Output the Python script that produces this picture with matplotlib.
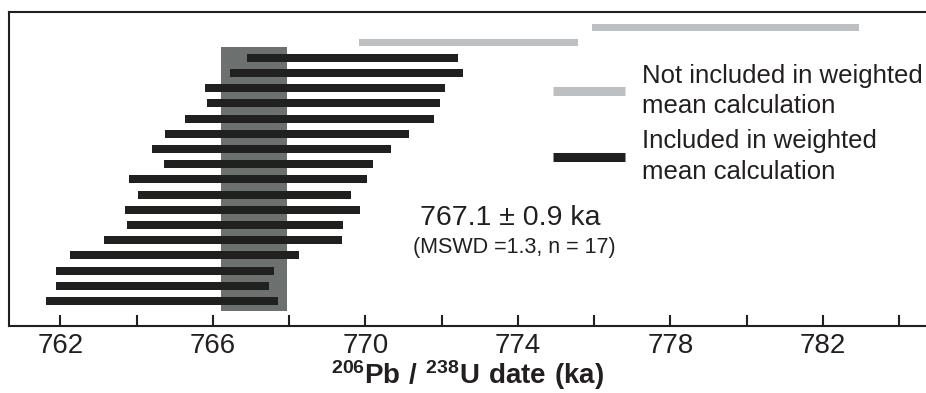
import matplotlib.pyplot as plt
from matplotlib.lines import Line2D
from matplotlib.ticker import MultipleLocator, FuncFormatter

plt.rcParams['font.family'] = ['Liberation Sans', 'DejaVu Sans']
plt.rcParams['mathtext.fontset'] = 'custom'
plt.rcParams['mathtext.rm'] = 'Liberation Sans'
plt.rcParams['mathtext.bf'] = 'Liberation Sans:bold'

# 206Pb/238U dates (ka), listed top to bottom
excl_lo = [775.95, 769.83]
excl_hi = [782.94, 775.58]
incl_lo = [766.90, 766.44, 765.79, 765.85, 765.27, 764.75, 764.40, 764.73, 763.80,
           764.05, 763.69, 763.74, 763.15, 762.26, 761.89, 761.89, 761.62]
incl_hi = [772.42, 772.55, 772.09, 771.96, 771.80, 771.14, 770.66, 770.20, 770.04,
           769.62, 769.87, 769.42, 769.39, 768.26, 767.60, 767.47, 767.70]
wm_lo, wm_hi = 766.22, 767.95

black = '#20211e'
grey = '#bcc0c2'
shade = '#6c716f'
txt = '#231f20'

n = len(excl_lo) + len(incl_lo)
y_excl = [n - i for i in range(len(excl_lo))]
y_incl = [n - len(excl_lo) - i for i in range(len(incl_lo))]

fig = plt.figure(figsize=(9.26, 3.93), dpi=100)
ax = fig.add_axes([0.0097, 0.1712, 0.9903, 0.7975])

ax.fill_between([wm_lo, wm_hi], 0.35, 17.7, color=shade, lw=0, zorder=1)
ax.barh(y_excl, [h - l for l, h in zip(excl_lo, excl_hi)], left=excl_lo,
        height=0.5, color=grey, zorder=2)
ax.barh(y_incl, [h - l for l, h in zip(incl_lo, incl_hi)], left=incl_lo,
        height=0.53, color=black, zorder=2)

ax.text(773.8, 6.0, '767.1 \u00b1 0.9 ka', fontsize=20.5, ha='center', va='baseline', color=txt)
ax.text(773.9, 4.17, '(MSWD =1.3, n = 17)', fontsize=15.5, ha='center', va='baseline', color=txt)

ax.set_xlim(760.655, 784.70)
ax.set_ylim(-0.63, 20.0)
ax.xaxis.set_major_locator(MultipleLocator(2))
ax.xaxis.set_major_formatter(FuncFormatter(lambda v, p: '%d' % v if round(v - 762) % 4 == 0 else ''))
ax.set_yticks([])
ax.tick_params(axis='x', direction='in', length=7.7, width=1.5, labelsize=20, pad=5,
               colors=txt)
for s in ['left', 'top', 'bottom']:
    ax.spines[s].set_linewidth(1.5)
    ax.spines[s].set_color(txt)
ax.spines['right'].set_visible(False)

ax.set_xlabel(r'$\mathbf{^{206}Pb\ /\ ^{238}U\ date\ (ka)}$', fontsize=20, color=txt, labelpad=-0.5)

handles = [Line2D([], [], color=grey, lw=6.5, solid_capstyle='butt'),
           Line2D([], [], color=black, lw=6.5, solid_capstyle='butt')]
labels = ['Not included in weighted\nmean calculation',
          'Included in weighted\nmean calculation']
leg = fig.legend(handles, labels, loc='upper left', bbox_to_anchor=(0.5969, 0.838),
                 frameon=False, fontsize=18.5, handlelength=2.8, handletextpad=0.69,
                 labelspacing=0.45, borderpad=0, borderaxespad=0)
for t in leg.get_texts():
    t.set_color(txt)
    t.set_linespacing(1.33)

fig.savefig('out.png', dpi=100)
